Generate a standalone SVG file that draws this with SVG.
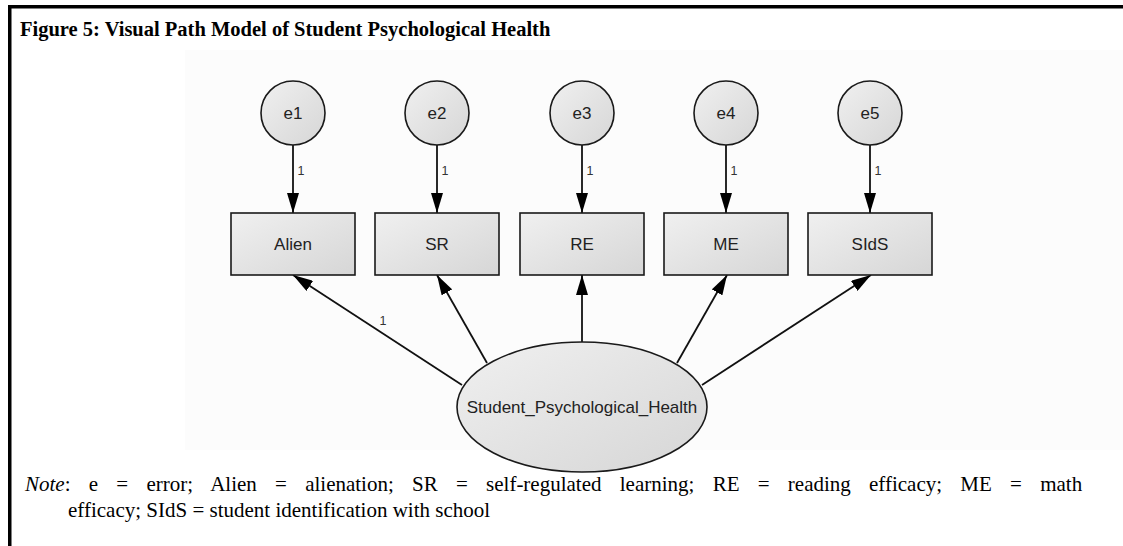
<svg xmlns="http://www.w3.org/2000/svg" width="1123" height="546" viewBox="0 0 1123 546">
<style>
.node{fill:url(#g);stroke:#1a1a1a;stroke-width:1.6}
.lbl{font-family:"Liberation Sans",Arial,sans-serif;font-size:17px;fill:#222;text-anchor:middle}
.w{font-family:"Liberation Sans",Arial,sans-serif;font-size:12.5px;fill:#333;text-anchor:middle}
.edge{stroke:#111;stroke-width:1.8;fill:none;marker-end:url(#ah)}
.cap{font-family:"Liberation Serif","Times New Roman",serif;fill:#000}
</style>
<defs>
<linearGradient id="g" x1="0" y1="0" x2="1" y2="1">
<stop offset="0" stop-color="#f0f0f0"/>
<stop offset="1" stop-color="#d6d6d6"/>
</linearGradient>
<marker id="ah" viewBox="0 0 20 12" refX="20" refY="6" markerWidth="20" markerHeight="12" markerUnits="userSpaceOnUse" orient="auto">
<path d="M0,0 L20,6 L0,12 z" fill="#000"/>
</marker>
</defs>
<rect x="0" y="0" width="1123" height="546" fill="#fff"/>
<rect x="185" y="50" width="938" height="400" fill="#fcfcfc"/>
<rect x="8" y="5" width="1115" height="3.5" fill="#000"/>
<rect x="8" y="5" width="3.5" height="541" fill="#000"/>
<text class="cap" x="20" y="36" font-size="20.5" font-weight="bold">Figure 5: Visual Path Model of Student Psychological Health</text>

<g id="connectors">
<line class="edge" x1="293" y1="145" x2="293" y2="213"/>
<line class="edge" x1="437" y1="145" x2="437" y2="213"/>
<line class="edge" x1="582" y1="145" x2="582" y2="213"/>
<line class="edge" x1="726" y1="145" x2="726" y2="213"/>
<line class="edge" x1="870" y1="145" x2="870" y2="213"/>
<text class="w" x="301" y="175">1</text>
<text class="w" x="445" y="175">1</text>
<text class="w" x="590" y="175">1</text>
<text class="w" x="734" y="175">1</text>
<text class="w" x="878" y="175">1</text>
<line class="edge" x1="462" y1="385" x2="293" y2="275"/>
<line class="edge" x1="487" y1="363" x2="437" y2="275"/>
<line class="edge" x1="582" y1="342" x2="582" y2="275"/>
<line class="edge" x1="677" y1="363" x2="727" y2="275"/>
<line class="edge" x1="702" y1="385" x2="871" y2="275"/>
<text class="w" x="383" y="325">1</text>
</g>

<g id="e1"><circle class="node" cx="293" cy="113" r="32"/><text class="lbl" x="293" y="119">e1</text></g>
<g id="e2"><circle class="node" cx="437" cy="113" r="32"/><text class="lbl" x="437" y="119">e2</text></g>
<g id="e3"><circle class="node" cx="582" cy="113" r="32"/><text class="lbl" x="582" y="119">e3</text></g>
<g id="e4"><circle class="node" cx="726" cy="113" r="32"/><text class="lbl" x="726" y="119">e4</text></g>
<g id="e5"><circle class="node" cx="870" cy="113" r="32"/><text class="lbl" x="870" y="119">e5</text></g>

<g id="Alien"><rect class="node" x="231" y="213" width="124" height="62"/><text class="lbl" x="293" y="250">Alien</text></g>
<g id="SR"><rect class="node" x="375" y="213" width="124" height="62"/><text class="lbl" x="437" y="250">SR</text></g>
<g id="RE"><rect class="node" x="520" y="213" width="124" height="62"/><text class="lbl" x="582" y="250">RE</text></g>
<g id="ME"><rect class="node" x="664" y="213" width="124" height="62"/><text class="lbl" x="726" y="250">ME</text></g>
<g id="SIdS"><rect class="node" x="808" y="213" width="124" height="62"/><text class="lbl" x="870" y="250">SIdS</text></g>

<g id="Student_Psychological_Health"><ellipse class="node" cx="582" cy="407" rx="125" ry="65"/><text class="lbl" x="582" y="413">Student_Psychological_Health</text></g>

<text class="cap" x="25" y="491" font-size="21" word-spacing="13"><tspan font-style="italic">Note</tspan>: e = error; Alien = alienation; SR = self-regulated learning; RE = reading efficacy; ME = math</text>
<text class="cap" x="68" y="517" font-size="21">efficacy; SIdS = student identification with school</text>
</svg>
